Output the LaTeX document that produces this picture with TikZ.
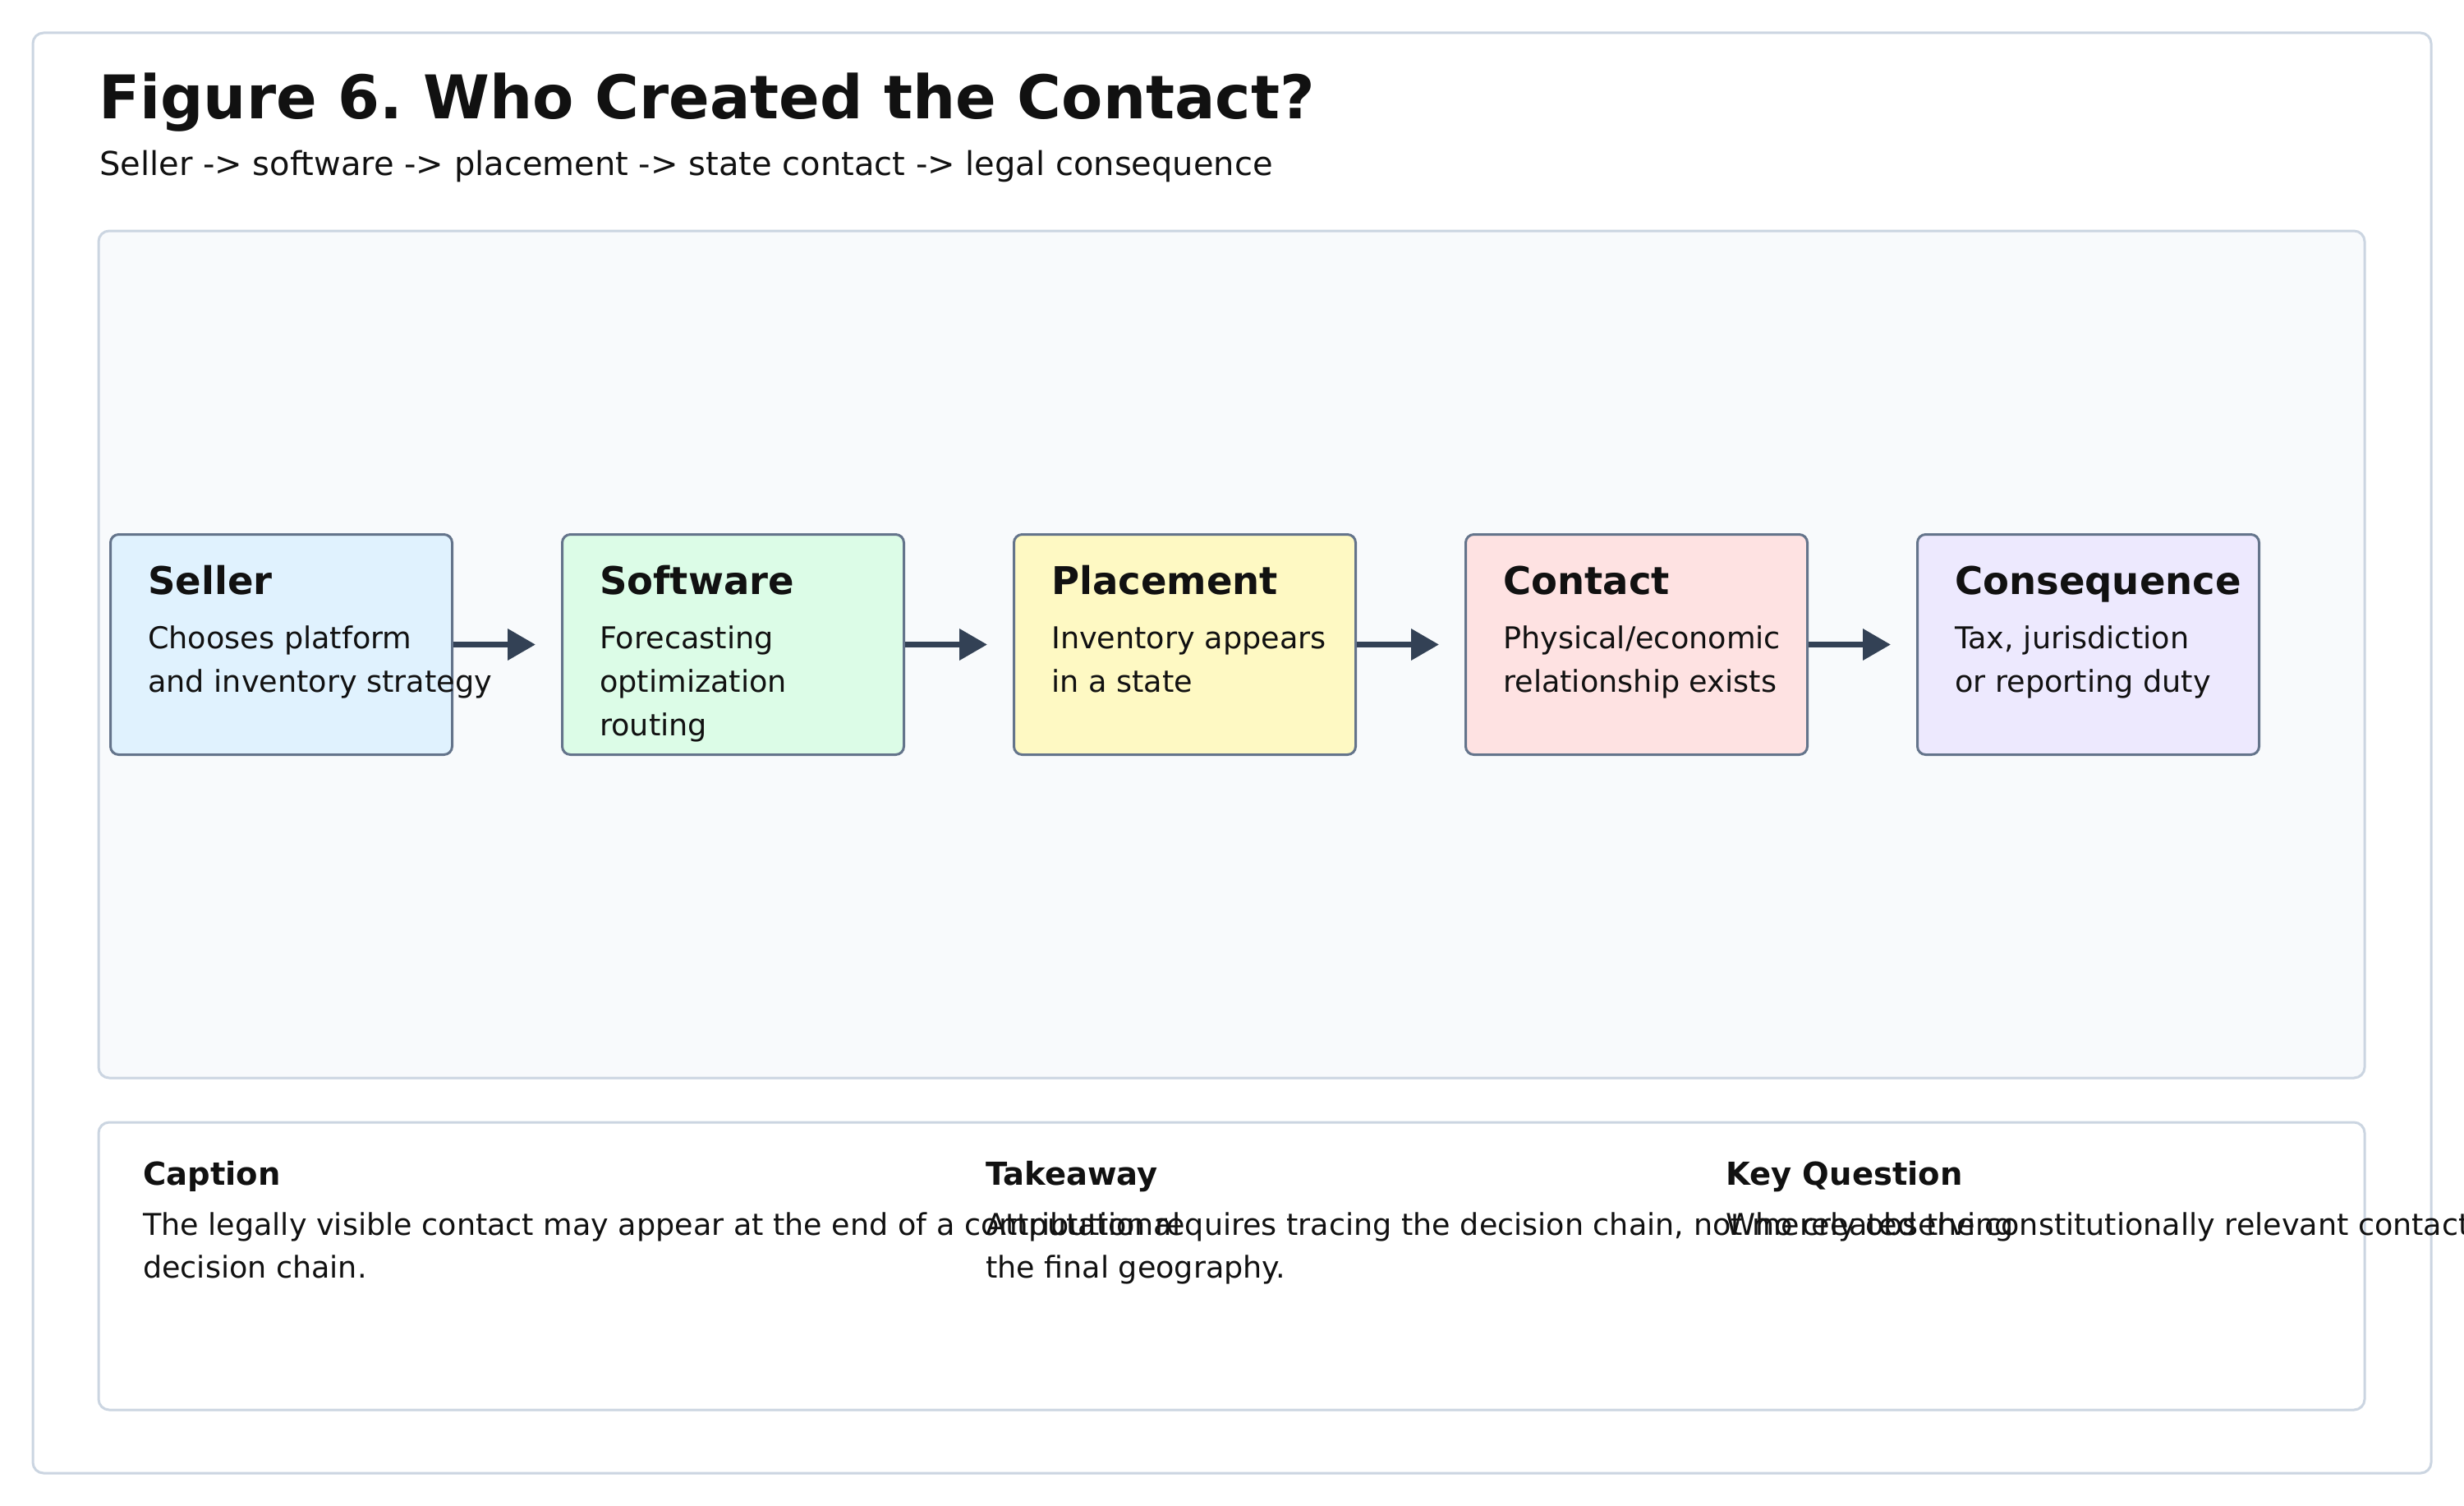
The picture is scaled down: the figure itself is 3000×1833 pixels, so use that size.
\documentclass[tikz,border=0pt]{standalone}
\usepackage{fontspec}
\setmainfont{DejaVu Sans}
\usetikzlibrary{arrows.meta}
\frenchspacing
\definecolor{ink}{HTML}{111111}
\definecolor{frameline}{HTML}{CBD5E1}
\definecolor{panelfill}{HTML}{F8FAFC}
\definecolor{boxline}{HTML}{64748B}
\definecolor{arrowcol}{HTML}{334155}
\definecolor{cblue}{HTML}{E0F2FE}
\definecolor{cgreen}{HTML}{DCFCE7}
\definecolor{cyellow}{HTML}{FEF9C3}
\definecolor{cred}{HTML}{FEE2E2}
\definecolor{cviolet}{HTML}{EDE9FE}
\newcommand{\lines}[1]{\begin{tabular}[t]{@{}l@{}}#1\end{tabular}}
\begin{document}
\begin{tikzpicture}[x=1pt,y=-1pt,
  framebox/.style={draw=frameline,line width=3pt,rounded corners=13pt},
  stagebox/.style={draw=boxline,line width=3pt,rounded corners=10pt,minimum width=416pt,minimum height=268pt,anchor=north west,inner sep=0pt},
  titletext/.style={anchor=base west,inner sep=0pt,text=ink,font=\fontsize{73.3}{88}\selectfont\bfseries},
  subtext/.style={anchor=base west,inner sep=0pt,text=ink,font=\fontsize{40}{48}\selectfont},
  stagehead/.style={anchor=base west,inner sep=0pt,text=ink,font=\fontsize{46.5}{56}\selectfont\bfseries},
  stagebody/.style={anchor=base west,inner sep=0pt,text=ink,font=\fontsize{36.6}{53}\selectfont},
  notehead/.style={anchor=base west,inner sep=0pt,text=ink,font=\fontsize{38.5}{46}\selectfont\bfseries},
  notebody/.style={anchor=base west,inner sep=0pt,text=ink,font=\fontsize{36.5}{52}\selectfont},
  flow/.style={draw=arrowcol,line width=7pt,-{Triangle[length=34pt,width=37pt]}}]
\useasboundingbox (0,0) rectangle (3000,1833);
\fill[white] (0,0) rectangle (3000,1833);
% outer frame
\draw[framebox,fill=white] (40,40) rectangle (2960,1793);
% title
\node[titletext] (title) at (120,144) {Figure 6. Who Created the Contact?};
\node[subtext] (subtitle) at (121,213) {Seller -> software -> placement -> state contact -> legal consequence};
% diagram panel
\draw[framebox,fill=panelfill] (120,281) rectangle (2879,1312);
% stage boxes
\node[stagebox,fill=cblue] (seller) at (133,649) {};
\node[stagebox,fill=cgreen] (software) at (683,649) {};
\node[stagebox,fill=cyellow] (placement) at (1233,649) {};
\node[stagebox,fill=cred] (contact) at (1783,649) {};
\node[stagebox,fill=cviolet] (consequence) at (2333,649) {};
% stage texts
\node[stagehead] (sellerH) at (180,723) {Seller};
\node[stagebody] (sellerB) at (180,789) {\lines{Chooses platform\\and inventory strategy}};
\node[stagehead] (softwareH) at (730,723) {Software};
\node[stagebody] (softwareB) at (730,789) {\lines{Forecasting\\optimization\\routing}};
\node[stagehead] (placementH) at (1280,723) {Placement};
\node[stagebody] (placementB) at (1280,789) {\lines{Inventory appears\\in a state}};
\node[stagehead] (contactH) at (1830,723) {Contact};
\node[stagebody] (contactB) at (1830,789) {\lines{Physical/economic\\relationship exists}};
\node[stagehead] (consequenceH) at (2380,723) {Consequence};
\node[stagebody] (consequenceB) at (2380,789) {\lines{Tax, jurisdiction\\or reporting duty}};
% arrows
\draw[flow] (seller.east) -- ([xshift=-31pt]software.west);
\draw[flow] (software.east) -- ([xshift=-31pt]placement.west);
\draw[flow] (placement.east) -- ([xshift=-31pt]contact.west);
\draw[flow] (contact.east) -- ([xshift=-31pt]consequence.west);
% notes panel
\draw[framebox,fill=white] (120,1366) rectangle (2879,1716);
\node[notehead] (capH) at (174,1442) {Caption};
\node[notebody] (capB) at (174,1503) {\lines{The legally visible contact may appear at the end of a computational\\decision chain.}};
\node[notehead] (takeH) at (1200,1442) {Takeaway};
\node[notebody] (takeB) at (1200,1503) {\lines{Attribution requires tracing the decision chain, not merely observing\\the final geography.}};
\node[notehead] (keyH) at (2101,1442) {Key Question};
\node[notebody] (keyB) at (2101,1503) {\lines{Who created the constitutionally relevant contact?}};
\end{tikzpicture}
\end{document}
